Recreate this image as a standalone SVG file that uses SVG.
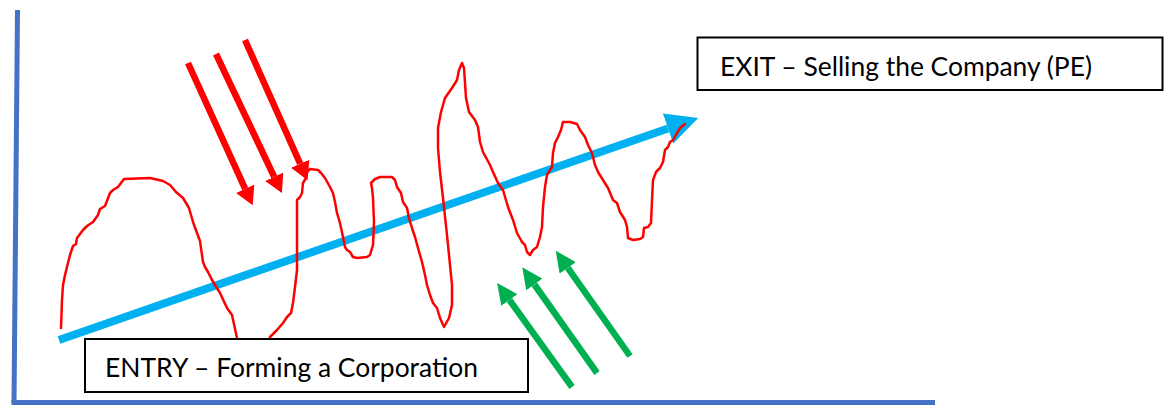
<svg xmlns="http://www.w3.org/2000/svg" width="1165" height="405" viewBox="0 0 1165 405">
<defs>
<style>
.axis{stroke:#4472C4;stroke-width:5;fill:none}
.trend{stroke:#00B0F0;stroke-width:8;fill:none}
.wave{stroke:#FF0000;stroke-width:2.5;fill:none;stroke-linejoin:round;stroke-linecap:round}
.red{stroke:#FF0000;stroke-width:6.5;fill:none}
.green{stroke:#00B050;stroke-width:6.5;fill:none}
.box{fill:#FFFFFF;stroke:#000000;stroke-width:2}
.lbl{font-family:Lato,"Liberation Sans",Arial,sans-serif;font-size:26.5px;fill:#000000}
</style>
<marker id="mBlue" markerUnits="userSpaceOnUse" viewBox="0 0 32 32" refX="0" refY="16" markerWidth="32" markerHeight="32" orient="auto"><path d="M0,0 L32,16 L0,32 z" fill="#00B0F0"/></marker>
<marker id="mRed" markerUnits="userSpaceOnUse" viewBox="0 0 18 20" refX="0" refY="10" markerWidth="18" markerHeight="20" orient="auto"><path d="M0,0 L18,10 L0,20 z" fill="#FF0000"/></marker>
<marker id="mGreen" markerUnits="userSpaceOnUse" viewBox="0 0 21 20" refX="0" refY="10" markerWidth="21" markerHeight="20" orient="auto"><path d="M0,0 L21,10 L0,20 z" fill="#00B050"/></marker>
</defs>
<g id="axes">
<line class="axis" x1="17.5" y1="10" x2="14" y2="403"/>
<line class="axis" x1="11.5" y1="402.5" x2="935" y2="402.5"/>
</g>
<g id="connectors">
<line class="trend" x1="59" y1="340" x2="668" y2="128.5" marker-end="url(#mBlue)"/>
<line class="red" x1="188" y1="63" x2="245.2" y2="188.8" marker-end="url(#mRed)"/>
<line class="red" x1="216" y1="54" x2="274.2" y2="176.8" marker-end="url(#mRed)"/>
<line class="red" x1="245" y1="40" x2="300.2" y2="163.8" marker-end="url(#mRed)"/>
<line class="green" x1="572" y1="387" x2="509.4" y2="300" marker-end="url(#mGreen)"/>
<line class="green" x1="597" y1="373" x2="534.4" y2="284.5" marker-end="url(#mGreen)"/>
<line class="green" x1="630" y1="356" x2="567.8" y2="267.9" marker-end="url(#mGreen)"/>
</g>
<g id="wave">
<polyline class="wave" points="61,328 62,300 63,285 65,275 70,255 73,246 76,244 77,238 83,230 87,226 93,222 98,215 100,209 105,206 110,193 113,190 118,187 124,179 150,178 163,181 170,185 176,192 183,198 189,208 193,222 197,233 200,241 203,262 205,267 208,272 212,280 220,293 227,308 232,315 237,338 240,360 265,360 270,337 277,330 283,323 287,317 291,313 293,303 295,287 297,270 297,227 297,200 300,197 302,193 303,183 306,178 307,172 310,169 318,170 321,173 325,178 330,187 333,193 335,202 337,213 340,223 343,237 345,247 347,250 350,252 353,257 357,258 367,257 370,255 373,245 374,222 373,198 372,188 371,183 375,179 380,177 392,177 395,180 397,187 401,193 403,202 407,208 409,218 412,228 415,237 418,248 422,262 425,275 427,285 430,295 433,303 437,308 440,318 444,327 449,318 452,305 452,285 450,265 447,235 443,198 440,172 438,148 438,128 441,112 445,98 452,88 457,80 459,70 462,63 464,68 466,98 469,112 475,120 478,127 480,142 483,152 490,165 493,172 498,183 503,190 508,207 513,220 517,233 522,242 525,245 527,252 530,255 533,250 537,247 540,237 542,227 543,207 545,187 547,175 552,167 553,153 555,143 558,137 561,130 563,122 570,122 577,124 580,130 585,137 588,145 592,153 595,165 598,172 603,180 608,188 613,200 617,203 620,212 625,220 627,227 628,238 633,240 640,239 643,237 644,228 648,227 651,223 652,200 653,180 656,172 660,168 663,162 665,150 668,147 670,142 673,140 677,133 680,128 685,124"/>
</g>
<g id="entry">
<rect class="box" x="85" y="339" width="443" height="53"/>
<text class="lbl" x="105" y="377" textLength="373" lengthAdjust="spacingAndGlyphs">ENTRY – Forming a Corporation</text>
</g>
<g id="exit">
<rect class="box" x="697.5" y="37.5" width="465" height="52.5"/>
<text class="lbl" x="720" y="76" textLength="372" lengthAdjust="spacingAndGlyphs">EXIT – Selling the Company (PE)</text>
</g>
</svg>
